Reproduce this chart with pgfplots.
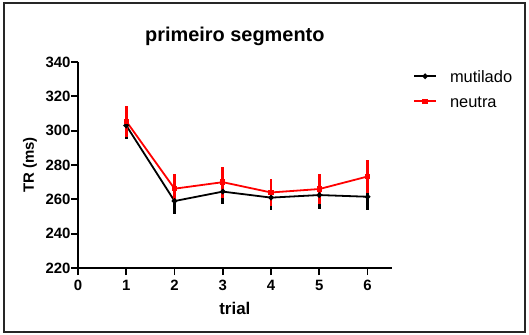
\documentclass[border=0pt]{standalone}
\usepackage{pgfplots}
\pgfplotsset{compat=1.18}
\usepackage{fontspec}
\setmainfont{Liberation Sans}
\definecolor{myred}{RGB}{255,0,0}
\begin{document}
\begin{tikzpicture}
\useasboundingbox (0bp,0bp) rectangle (529bp,335bp);
\draw[line width=2bp, black!85] (4bp,3bp) rectangle (525bp,332bp);
\begin{axis}[
  at={(78bp,67bp)}, anchor=south west, scale only axis,
  width=313.7bp, height=206bp,
  xmin=0, xmax=6.5, ymin=220, ymax=340,
  axis lines*=left, axis line style={line width=1.8bp, -},
  xtick={0,1,2,3,4,5,6}, ytick={220,240,260,280,300,320,340},
  tick align=outside, major tick length=7bp,
  tick style={line width=1.8bp, black},
  /pgf/number format/assume math mode=true,
  xticklabel={\pgfmathprintnumber{\tick}},
  yticklabel={\pgfmathprintnumber{\tick}},
  xticklabel style={font=\fontsize{15}{15}\selectfont\bfseries, yshift=-2bp},
  yticklabel style={font=\fontsize{15}{15}\selectfont\bfseries, xshift=3bp},
  xlabel={trial}, ylabel={TR (ms)},
  xlabel style={font=\fontsize{17}{17}\selectfont\bfseries, at={(axis description cs:0.5,-0.194)}, anchor=center},
  ylabel style={font=\fontsize{15}{15}\selectfont\bfseries, at={(axis description cs:-0.153,0.5)}, anchor=center},
  title={primeiro segmento},
  title style={font=\fontsize{20}{20}\selectfont\bfseries, at={(axis description cs:0.5,1.097)}, anchor=center, yshift=0pt},
  legend style={draw=none, fill=none, at={(axis description cs:1.068,0.961)}, anchor=north west,
    font=\fontsize{16.5}{16.5}\selectfont, row sep=13bp, inner sep=0pt,
    nodes={inner sep=0pt, text height=12bp, text depth=0bp}},
  legend cell align=left,
  legend image code/.code={\draw[mark repeat=2,mark phase=2,#1] plot coordinates {(0bp,0bp) (11bp,0bp) (22bp,0bp)};},
  /tikz/every odd column/.append style={column sep=13bp},
  clip=false,
]
\addplot[black, line width=1.8bp, mark=*, mark size=1.8bp,
  error bars/.cd, y dir=both, y explicit, error mark=none,
  error bar style={line width=2.8bp, black}]
  table[x=x, y=y, y error=e] {
  x y e
  1 303.0 8.0
  2 259.0 7.5
  3 264.5 7.0
  4 261.0 7.5
  5 262.5 8.0
  6 261.5 8.0
  };
\addlegendentry{mutilado}
\addplot[myred, line width=1.8bp, mark=square*, mark size=1.8bp,
  error bars/.cd, y dir=both, y explicit, error mark=none,
  error bar style={line width=2.8bp, myred}]
  table[x=x, y=y, y error=e] {
  x y e
  1 305.5 9.0
  2 266.2 8.5
  3 270.0 9.0
  4 264.0 8.0
  5 266.0 8.7
  6 273.3 9.5
  };
\addlegendentry{neutra}
\end{axis}
\end{tikzpicture}
\end{document}
